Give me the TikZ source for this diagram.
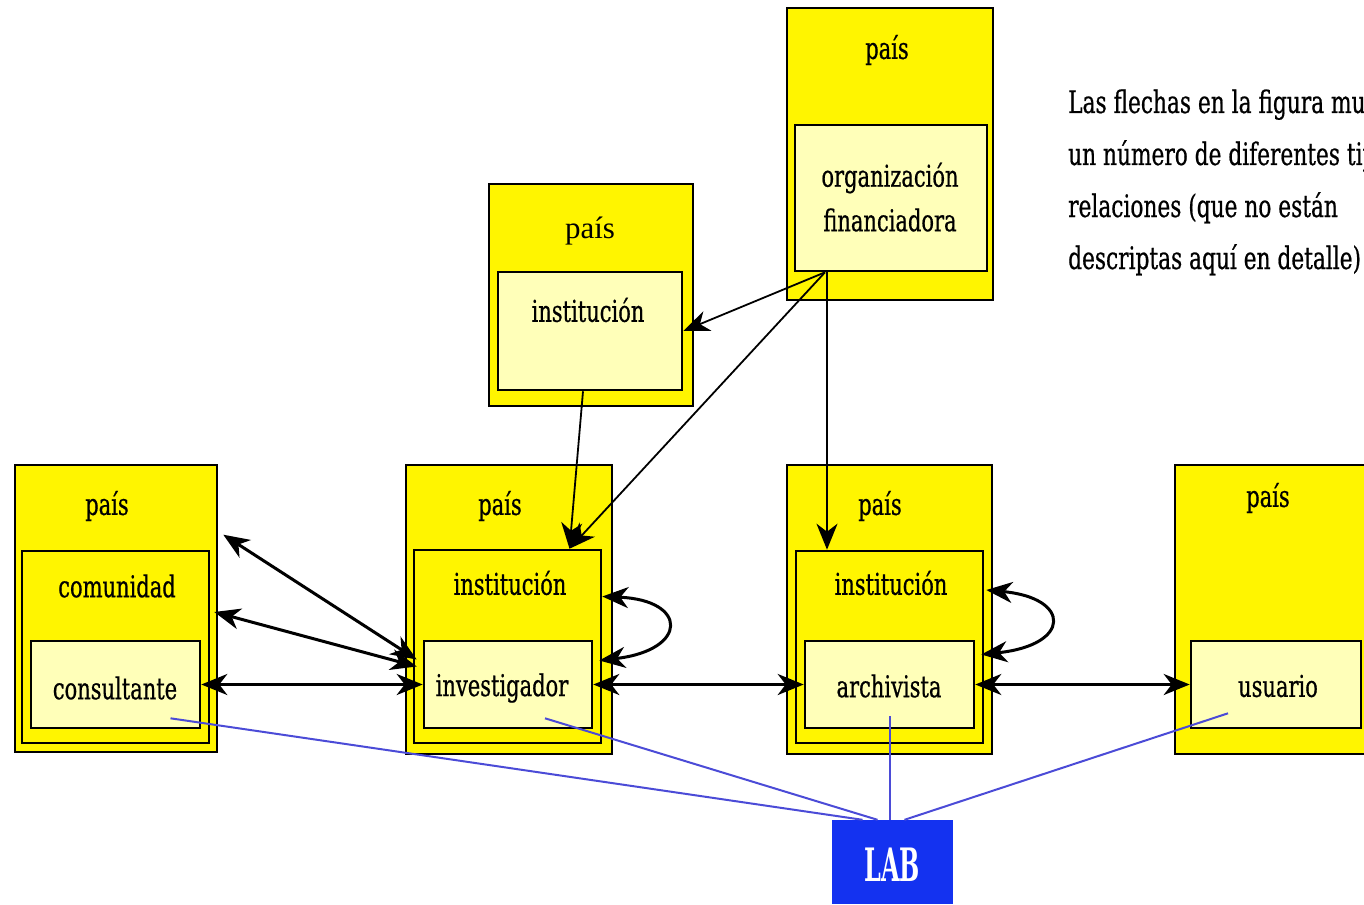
\documentclass[tikz,border=0pt]{standalone}
\usepackage{fontspec}
\setmainfont{Liberation Serif}
\newfontfamily\condf[FakeStretch=0.7,FakeBold=0.6]{DejaVu Serif}
\newfontfamily\labfont[FakeStretch=0.52]{DejaVu Serif}
\usetikzlibrary{arrows.meta,calc}
\definecolor{ylw}{RGB}{255,245,0}
\definecolor{lyl}{RGB}{255,255,185}
\definecolor{labblue}{RGB}{20,50,240}
\definecolor{lnblue}{RGB}{75,75,215}
\begin{document}
\begin{tikzpicture}[x=1pt,y=-1pt,
  myhead/.tip={Stealth[length=26pt,width=21pt,inset=8pt]},
  boxbase/.style={draw=black,line width=2.6pt,rectangle,inner sep=0pt},
  outerbox/.style={boxbase,fill=ylw},
  midbox/.style={boxbase,fill=ylw},
  innerbox/.style={boxbase,fill=lyl},
  lbl/.style={font=\condf\fontsize{30}{34}\selectfont,inner sep=0pt},
  tlbl/.style={font=\fontsize{31}{34}\selectfont,inner sep=0pt},
  conn/.style={line width=3pt,draw=black},
  both/.style={conn,myhead-myhead},
  thin/.style={line width=1.8pt,draw=black,-myhead},
  labline/.style={line width=2pt,draw=lnblue},
  note/.style={font=\condf\fontsize{31}{34}\selectfont,inner sep=0pt,anchor=base west}
]
\useasboundingbox (0,0) rectangle (1364,904);
\clip (0,0) rectangle (1364,904);

% outer "pais" boxes
\node[outerbox,minimum width=202pt,minimum height=287pt] (p1) at (116,608.5) {};
\node[outerbox,minimum width=206pt,minimum height=289pt] (p2) at (509,609.5) {};
\node[outerbox,minimum width=205pt,minimum height=289pt] (p3) at (889.5,609.5) {};
\node[outerbox,minimum width=205pt,minimum height=289pt] (p4) at (1277.5,609.5) {};
\node[outerbox,minimum width=206pt,minimum height=292pt] (p5) at (890,154) {};
\node[outerbox,minimum width=204pt,minimum height=222pt] (p6) at (591,295) {};

% middle boxes
\node[midbox,minimum width=187pt,minimum height=192pt] (com) at (115.5,647) {};
\node[midbox,minimum width=187pt,minimum height=193pt] (inst2) at (507.5,646.5) {};
\node[midbox,minimum width=187pt,minimum height=192pt] (inst3) at (889.5,647) {};

% inner boxes
\node[innerbox,minimum width=169pt,minimum height=87pt] (cons) at (115.5,684.5) {};
\node[innerbox,minimum width=168pt,minimum height=87pt] (inv) at (508,684.5) {};
\node[innerbox,minimum width=169pt,minimum height=87pt] (arch) at (889.5,684.5) {};
\node[innerbox,minimum width=170pt,minimum height=87pt] (usu) at (1276,684.5) {};
\node[innerbox,minimum width=192pt,minimum height=146pt] (org) at (891,198) {};
\node[innerbox,minimum width=184pt,minimum height=118pt] (insttop) at (590,331) {};

% LAB
\node[rectangle,fill=labblue,minimum width=121pt,minimum height=84pt,inner sep=0pt] (lab) at (892.5,862) {};
\node[font=\labfont\bfseries\fontsize{46}{50}\selectfont,text=white,inner sep=0pt] (labt) at (892,865) {LAB};

% labels
\node[lbl] (l1) at (107,506) {país};
\node[lbl] (l2) at (500,506) {país};
\node[lbl] (l3) at (880,506) {país};
\node[lbl] (l4) at (1268,498) {país};
\node[lbl] (l5) at (887,50) {país};
\node[tlbl] (l6) at (590,231) {país};
\node[lbl] (lcom) at (117,586) {comunidad};
\node[lbl] (lin2) at (510,583) {institución};
\node[lbl] (lin3) at (891,583) {institución};
\node[lbl] (lcons) at (115,688) {consultante};
\node[lbl] (linv) at (502,688) {investigador};
\node[lbl] (larch) at (889,686) {archivista};
\node[lbl] (lusu) at (1278,686) {usuario};
\node[lbl] (lorg1) at (890,178) {organización};
\node[lbl] (lorg2) at (890,220) {financiadora};
\node[lbl] (lintop) at (588,310) {institución};

% note text
\node[note] (n1) at (1068,113) {Las flechas en la figura mu};
\node[note] (n2) at (1068,165) {un número de diferentes tip};
\node[note] (n3) at (1068,217) {relaciones (que no están};
\node[note] (n4) at (1068,269) {descriptas aquí en detalle)};

% helper coordinates
\coordinate (ofootA) at ($(org.south)+(-66,0)$);
\coordinate (ofootB) at ($(org.south)+(-64,0)$);
\coordinate (inst2top) at ($(inst2.north)+(62,0)$);
\coordinate (archfoot) at ($(arch.south)+(0.5,-13)$);

% connectors from organizacion
\draw[thin] (ofootA) -- (insttop.east);
\draw[thin] (ofootA) -- (inst2top);
\draw[thin] (ofootB) -- (ofootB |- inst3.north);
\draw[thin] ($(insttop.south)+(-7,0)$) -- (inst2top);

% connectors to left country
\draw[both] ($(inv.west)+(-6,-25)$) -- ($(p1.north east)+(5,71)$);
\draw[both] ($(inv.west)+(-6,-18)$) -- ($(com.east)+(4,-35)$);

% horizontal connectors
\draw[both] (cons.east) -- (inv.west);
\draw[both] (inv.east) -- (arch.west);
\draw[both] (arch.east) -- (usu.west);

% self loops
\draw[both] ($(inv.east)+(6,-24)$) .. controls ($(inv.east)+(95,-34.5)$) and ($(inst2.east)+(86,-46.5)$) .. ($(inst2.east)+(0,-50)$);
\draw[both] ($(arch.east)+(6,-30)$) .. controls ($(arch.east)+(96,-39.5)$) and ($(inst3.east)+(87,-49)$) .. ($(inst3.east)+(2,-57)$);

% LAB lines
\draw[labline] ($(cons.south)+(55,-11)$) -- ($(lab.north)+(-30,0)$);
\draw[labline] ($(inv.south)+(37,-11)$) -- ($(lab.north)+(-15,0)$);
\draw[labline] (archfoot) -- (archfoot |- lab.north);
\draw[labline] ($(usu.south)+(-48,-16)$) -- ($(lab.north)+(12,0)$);
\end{tikzpicture}
\end{document}
